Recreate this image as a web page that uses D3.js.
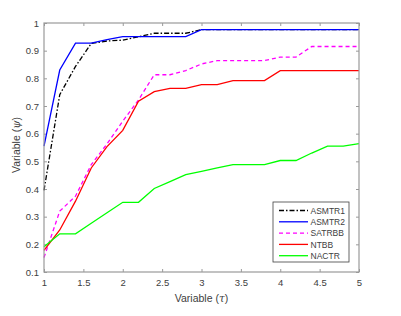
<!DOCTYPE html>
<html>
<head>
<meta charset="utf-8">
<script src="https://cdn.jsdelivr.net/npm/d3@7"></script>
<style>
  body { margin: 0; background: #fff; }
  text { font-family: "Liberation Sans", Arial, sans-serif; fill: #404040; }
</style>
</head>
<body>
<div id="chart"></div>
<script>
var tau = [1, 1.2, 1.4, 1.6, 1.8, 2, 2.2, 2.4, 2.6, 2.8, 3, 3.2, 3.4, 3.6, 3.8, 4, 4.2, 4.4, 4.6, 4.8, 5];

var asmtr1 = [0.395, 0.741, 0.843, 0.926, 0.935, 0.938, 0.95, 0.963, 0.963, 0.963, 0.976, 0.976, 0.976, 0.976, 0.976, 0.976, 0.976, 0.976, 0.976, 0.976, 0.976];
var asmtr2 = [0.555, 0.83, 0.927, 0.927, 0.94, 0.951, 0.951, 0.951, 0.951, 0.951, 0.976, 0.976, 0.976, 0.976, 0.976, 0.976, 0.976, 0.976, 0.976, 0.976, 0.976];
var satrbb = [0.152, 0.32, 0.374, 0.488, 0.563, 0.645, 0.722, 0.813, 0.813, 0.828, 0.852, 0.864, 0.864, 0.864, 0.864, 0.877, 0.877, 0.915, 0.915, 0.915, 0.915];
var ntbb = [0.178, 0.252, 0.356, 0.476, 0.553, 0.612, 0.717, 0.752, 0.764, 0.764, 0.777, 0.777, 0.792, 0.792, 0.792, 0.828, 0.828, 0.828, 0.828, 0.828, 0.828];
var nactr = [0.191, 0.238, 0.238, 0.276, 0.314, 0.352, 0.352, 0.402, 0.427, 0.452, 0.464, 0.476, 0.488, 0.488, 0.488, 0.503, 0.503, 0.53, 0.555, 0.555, 0.564];

var seriesNames = ["ASMTR1", "ASMTR2", "SATRBB", "NTBB", "NACTR"];
var seriesValues = [asmtr1, asmtr2, satrbb, ntbb, nactr];
var seriesColors = ["#000000", "#0000ff", "#ff00ff", "#ff0000", "#00ff00"];
var seriesDash = ["5,2,1.5,2", null, "4,3", null, null];

var xTicks = [1, 1.5, 2, 2.5, 3, 3.5, 4, 4.5, 5];
var yTicks = [0.1, 0.2, 0.3, 0.4, 0.5, 0.6, 0.7, 0.8, 0.9, 1];

var wide = 401, high = 316;
var plotLeft = 44, plotRight = 359, plotTop = 23, plotBottom = 272;

var svg = d3.select("#chart").append("svg")
  .attr("width", wide)
  .attr("height", high);

var xScale = d3.scaleLinear().domain([1, 5]).range([plotLeft, plotRight]);
var yScale = d3.scaleLinear().domain([0.1, 1]).range([plotBottom, plotTop]);

var fmt = function(d) { return d3.format("")(d); };

// axes (ticks point inward like matlab)
var axisColor = "#9a9a9a";
function styleAxis(g) {
  g.select(".domain").remove();
  g.selectAll(".tick line").attr("stroke", axisColor);
  g.selectAll(".tick text").attr("font-size", 9.5).attr("fill", "#404040")
    .attr("font-family", "'Liberation Sans', Arial, sans-serif");
}

svg.append("g")
  .attr("transform", "translate(0," + plotBottom + ")")
  .call(d3.axisBottom(xScale).tickValues(xTicks).tickFormat(fmt).tickSize(-3).tickPadding(7))
  .call(styleAxis);
svg.append("g")
  .attr("transform", "translate(0," + plotTop + ")")
  .call(d3.axisTop(xScale).tickValues(xTicks).tickFormat("").tickSize(-3))
  .call(styleAxis);
svg.append("g")
  .attr("transform", "translate(" + plotLeft + ",0)")
  .call(d3.axisLeft(yScale).tickValues(yTicks).tickFormat(fmt).tickSize(-3).tickPadding(5))
  .call(styleAxis);
svg.append("g")
  .attr("transform", "translate(" + plotRight + ",0)")
  .call(d3.axisRight(yScale).tickValues(yTicks).tickFormat("").tickSize(-3))
  .call(styleAxis);

var line = d3.line()
  .x(function(d, i) { return xScale(tau[i]); })
  .y(function(d) { return yScale(d); });

seriesValues.forEach(function(vals, k) {
  svg.append("path")
    .datum(vals)
    .attr("d", line)
    .attr("fill", "none")
    .attr("stroke", seriesColors[k])
    .attr("stroke-width", 1.3)
    .attr("stroke-dasharray", seriesDash[k]);
});

// box
svg.append("rect")
  .attr("x", plotLeft).attr("y", plotTop)
  .attr("width", plotRight - plotLeft).attr("height", plotBottom - plotTop)
  .attr("fill", "none")
  .attr("stroke", axisColor)
  .attr("stroke-width", 1.2);

// axis labels
var xLab = svg.append("text")
  .attr("x", (plotLeft + plotRight) / 2)
  .attr("y", 302)
  .attr("text-anchor", "middle")
  .attr("font-size", 10.5);
xLab.append("tspan").text("Variable (");
xLab.append("tspan").attr("font-style", "italic").attr("font-family", "'DejaVu Serif', serif").text("τ");
xLab.append("tspan").text(")");

var yLab = svg.append("text")
  .attr("transform", "translate(20,145) rotate(-90)")
  .attr("text-anchor", "middle")
  .attr("font-size", 10.5);
yLab.append("tspan").text("Variable (");
yLab.append("tspan").attr("font-style", "italic").attr("font-family", "'DejaVu Serif', serif").text("ψ");
yLab.append("tspan").text(")");

// legend
var legend = svg.append("g").attr("transform", "translate(273,202)");
legend.append("rect")
  .attr("width", 76).attr("height", 60)
  .attr("fill", "#fff")
  .attr("stroke", "#404040")
  .attr("stroke-width", 0.8);
seriesNames.forEach(function(name, k) {
  var yy = 8.5 + k * 11.3;
  legend.append("line")
    .attr("x1", 6).attr("x2", 35)
    .attr("y1", yy).attr("y2", yy)
    .attr("stroke", seriesColors[k])
    .attr("stroke-width", 1.3)
    .attr("stroke-dasharray", seriesDash[k]);
  legend.append("text")
    .attr("x", 37.5).attr("y", yy + 3.2)
    .attr("font-size", 8.5)
    .text(name);
});
</script>
</body>
</html>
